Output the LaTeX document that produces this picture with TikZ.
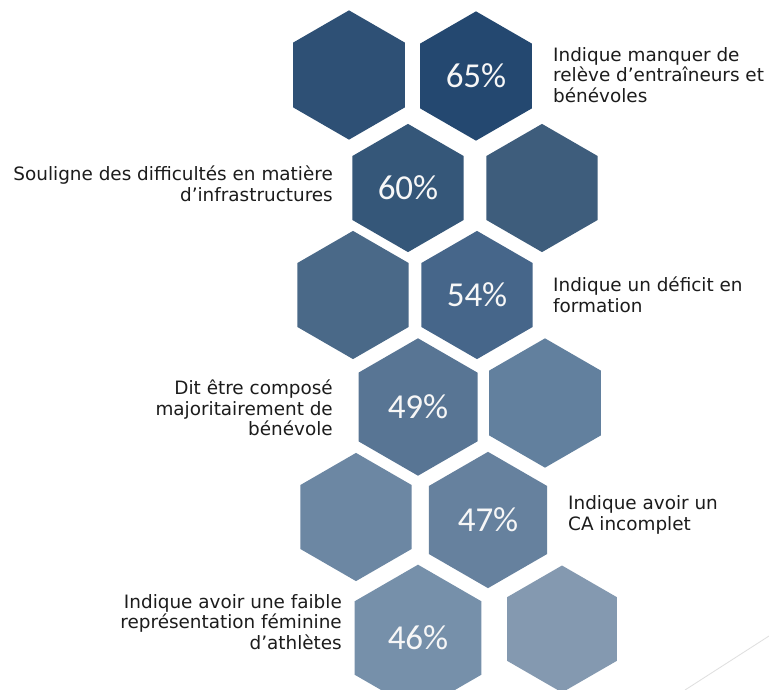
\documentclass[tikz,border=0pt]{standalone}
\usepackage{fontspec}
\setmainfont{DejaVu Sans}
\newfontfamily\pctfont{Carlito}
\usetikzlibrary{shapes.geometric}
\definecolor{hA}{HTML}{2E5075}
\definecolor{hB}{HTML}{244870}
\definecolor{hC}{HTML}{355779}
\definecolor{hD}{HTML}{3E5D7C}
\definecolor{hE}{HTML}{4A6988}
\definecolor{hF}{HTML}{46668A}
\definecolor{hG}{HTML}{587594}
\definecolor{hH}{HTML}{62809E}
\definecolor{hI}{HTML}{6C87A3}
\definecolor{hJ}{HTML}{66819E}
\definecolor{hK}{HTML}{7690AA}
\definecolor{hL}{HTML}{8499B0}
\definecolor{labtext}{HTML}{1C1C1C}
\definecolor{pcttext}{HTML}{F7F7F7}
\begin{document}
\begin{tikzpicture}[x=1pt,y=-1pt,
  hexcell/.style={shape=regular polygon, regular polygon sides=6,
    regular polygon rotate=30, inner sep=0pt, outer sep=0pt, draw=none,
    text=pcttext, font=\pctfont\fontsize{35}{35}\selectfont},
  lableft/.style={anchor=west, align=left, inner sep=0pt, text=labtext,
    font=\fontsize{18.4}{20.5}\selectfont},
  labright/.style={anchor=east, align=right, inner sep=0pt, text=labtext,
    font=\fontsize{18.4}{20.5}\selectfont}]
\clip (0,0) rectangle (769,690);
\fill[white] (0,0) rectangle (769,690);
% row 1
\node[hexcell, fill=hA, minimum size=129.3pt] (h1a) at (349,75) {};
\node[hexcell, fill=hB, minimum size=129.3pt] (h1b) at (476,76) {65\%};
% row 2
\node[hexcell, fill=hC, minimum size=128.2pt] (h2a) at (408,188) {60\%};
\node[hexcell, fill=hD, minimum size=128.2pt] (h2b) at (542,188) {};
% row 3
\node[hexcell, fill=hE, minimum size=128.2pt] (h3a) at (353,295) {};
\node[hexcell, fill=hF, minimum size=128.2pt] (h3b) at (477,295) {54\%};
% row 4
\node[hexcell, fill=hG, minimum size=137.4pt] (h4a) at (418,407) {49\%};
\node[hexcell, fill=hH, minimum size=129.3pt] (h4b) at (545,403) {};
% row 5
\node[hexcell, fill=hI, minimum size=128.2pt] (h5a) at (356,517) {};
\node[hexcell, fill=hJ, minimum size=136.3pt] (h5b) at (488,520) {47\%};
% row 6
\node[hexcell, fill=hK, minimum size=146.6pt] (h6a) at (418,638) {46\%};
\node[hexcell, fill=hL, minimum size=127.0pt] (h6b) at (562,629) {};
% labels
\node[lableft] (t1) at (553,75) {Indique manquer de\\relève d’entraîneurs et\\bénévoles};
\node[labright] (t2) at (333,184) {Souligne des difficultés en matière\\d’infrastructures};
\node[lableft] (t3) at (553,295) {Indique un déficit en\\formation};
\node[labright] (t4) at (333,408) {Dit être composé\\majoritairement de\\bénévole};
\node[lableft] (t5) at (568,515) {Indique avoir un\\CA incomplet};
\node[labright] (t6) at (342,622) {Indique avoir une faible\\représentation féminine\\d’athlètes};
% decorative line
\coordinate (d1) at (685,690);
\coordinate (d2) at (769,636);
\draw[gray!25, line width=0.8pt] (d1) -- (d2);
\end{tikzpicture}
\end{document}
